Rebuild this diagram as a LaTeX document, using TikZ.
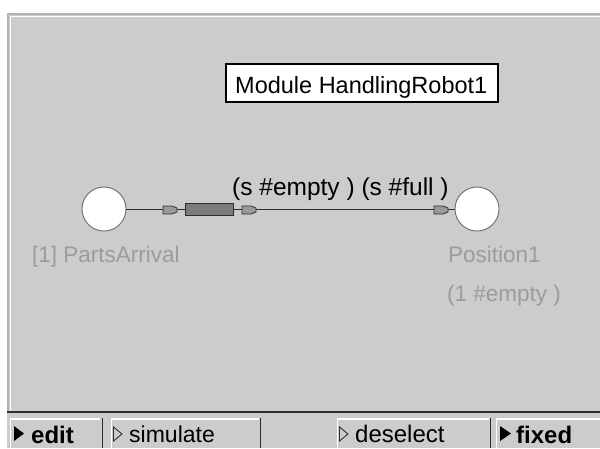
\documentclass[tikz,border=0pt]{standalone}
\usepackage{fontspec}
\setmainfont{Liberation Sans}
\definecolor{panelgray}{HTML}{CCCCCC}
\definecolor{bevelgray}{HTML}{B4B4B4}
\definecolor{inkdark}{HTML}{2E2E2E}
\definecolor{labelgray}{HTML}{9C9C9C}
\definecolor{transgray}{HTML}{7C7C7C}
\definecolor{pluggray}{HTML}{9A9A9A}
\newcommand\fsz[1]{\fontsize{#1}{#1}\selectfont}
% small arc-end plug, pointing right, drawn with its left end at (#1,#2)
\newcommand\arcplug[2]{%
  \draw[inkdark, line width=0.8, fill=pluggray]
    (#1,#2-4) -- (#1+9,#2-4) -- (#1+14,#2-2) -- (#1+14,#2+2)
    -- (#1+9,#2+4) -- (#1,#2+4) -- cycle;}
\begin{document}
\begin{tikzpicture}[x=1pt, y=-1pt,
  place/.style={circle, draw=gray!85!black, line width=0.9, fill=white,
    minimum size=44pt, inner sep=0pt},
  trans/.style={rectangle, draw=inkdark, line width=0.9, fill=transgray,
    minimum width=48pt, minimum height=12pt, inner sep=0pt},
  arc/.style={inkdark, line width=1},
  graylabel/.style={text=labelgray, font=\fsz{22.5}, inner sep=0pt, anchor=base west},
  btntext/.style={text=black, font=\fsz{23}, inner sep=0pt, anchor=base west},
  btnbold/.style={text=black, font=\fsz{24}\bfseries, inner sep=0pt, anchor=base west},
  hilite/.style={white, line width=1.5},
  btnedge/.style={inkdark, line width=1.8}]
\useasboundingbox (0,0) rectangle (600,448);
\fill[white] (0,0) rectangle (600,448);

% editor panel with bevelled frame
\fill[panelgray] (7,13) rectangle (600,412);
\draw[bevelgray, line width=1.5] (7.75,412) |- (600,13.75);
\draw[white, line width=1.5] (10.5,412) |- (600,16.5);

% module title box
\node[draw=black, line width=1.3, fill=white, minimum width=272pt,
  minimum height=38pt, inner sep=0pt] (title) at (362,83) {};
\node[text=black, font=\fsz{23.5}, inner sep=0pt, anchor=base west]
  (titletext) at (235,93) {Module HandlingRobot1};

% net
\node[place] (pa) at (104,209) {};
\node[place] (pos1) at (477,209) {};
\node[trans] (t1) at (209,209) {};
\draw[arc] (pa.east) -- (t1.west);
\draw[arc] (t1.east) -- (pos1.west);
\arcplug{163}{210}
\arcplug{242}{210}
\arcplug{434}{210}

\node[text=black, font=\fsz{24.5}, inner sep=0pt, anchor=base west]
  (arclabel) at (232,195) {(s \#empty ) (s \#full )};

\node[graylabel] (palabel) at (32,262) {[1] PartsArrival};
\node[graylabel] (poslabel) at (448,262) {Position1};
\node[graylabel] (posmark) at (447,301) {(1 \#empty )};

% button bar
\fill[panelgray] (7,413) rectangle (600,448);
\draw[inkdark, line width=1.6] (7,412) -- (600,412);

% edit
\draw[hilite] (10.5,448) |- (100,418.75);
\draw[btnedge] (102.5,418) -- (102.5,448);
\fill[black] (14,426) -- (24,433.5) -- (14,441) -- cycle;
\node[btnbold] (edit) at (31,443) {edit};

% simulate
\draw[hilite] (111.5,448) |- (259,418.75);
\draw[btnedge] (260.5,418) -- (260.5,448);
\draw[inkdark, line width=0.9] (113.5,427) -- (122,434) -- (113.5,441) -- cycle;
\node[btntext] (simulate) at (129,442) {simulate};

% deselect
\draw[hilite] (337.5,448) |- (489,418.75);
\draw[btnedge] (490.5,418) -- (490.5,448);
\draw[inkdark, line width=0.9] (339.5,427) -- (348,434) -- (339.5,441) -- cycle;
\node[btntext, font=\fsz{24}] (deselect) at (355,442) {deselect};

% fixed
\draw[hilite] (496.5,448) |- (600,418.75);
\fill[black] (500,426) -- (511,433.5) -- (500,441) -- cycle;
\node[btnbold] (fixed) at (516,443) {fixed};
\end{tikzpicture}
\end{document}
